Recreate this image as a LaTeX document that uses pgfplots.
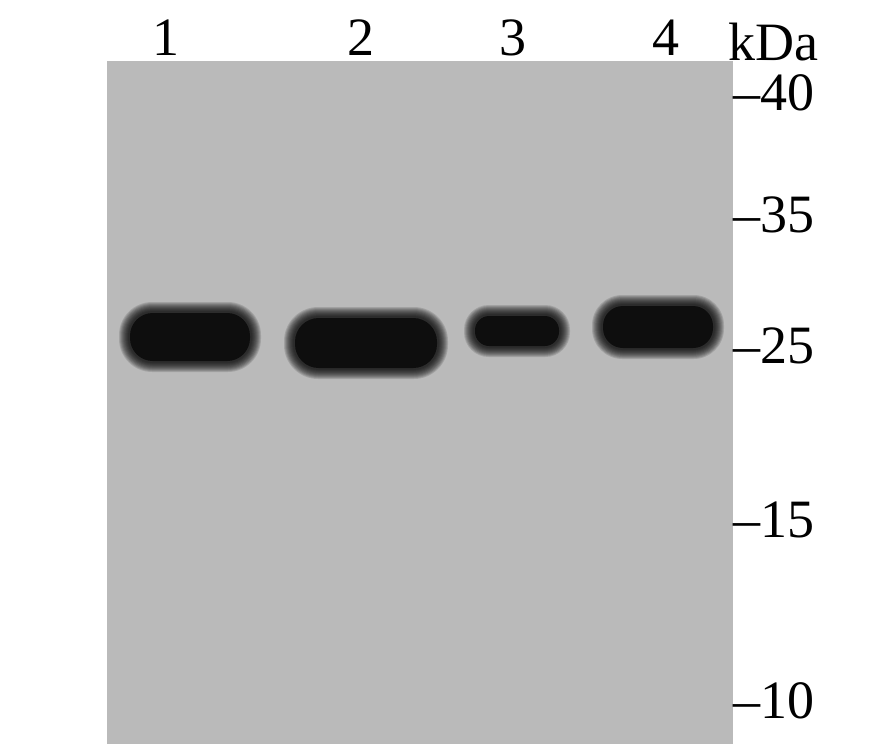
\documentclass[border=0pt]{standalone}
\usepackage{pgfplots}
\pgfplotsset{compat=1.18}
\usepackage{pgfplotstable}
\usepackage{fontspec}
\setmainfont{Liberation Serif}
\definecolor{blot}{RGB}{186,186,186}
\definecolor{bandcol}{RGB}{14,14,14}
\tikzset{lbl/.style={inner sep=0pt, outer sep=0pt, font=\fontsize{54}{60}\selectfont}}

% band centres (px), half width, half height of the dark core
\pgfplotstableread{
x y w h
190 337 62 26
366 343 73 27
517 331 44 17
658 327 57 23
}\bands

\pgfdeclareplotmark{band}{%
  \foreach \e in {9,8,7,6,5,4,3,2,1,0}{%
    \pgfmathsetmacro{\rr}{0.95*(\bh+\e)}%
    \fill[black, draw=none, fill opacity=0.13, rounded corners=\rr pt]
      (-\bw pt-\e pt,-\bh pt-\e pt) rectangle (\bw pt+\e pt,\bh pt+\e pt);
  }%
  \pgfmathsetmacro{\rr}{0.95*(\bh-2)}%
  \fill[bandcol, draw=none, rounded corners=\rr pt]
    (-\bw pt+2pt,-\bh pt+2pt) rectangle (\bw pt-2pt,\bh pt-2pt);
}

\begin{document}
\begin{tikzpicture}
\begin{axis}[
  width=878pt, height=753pt, scale only axis,
  xmin=0, xmax=878, ymin=0, ymax=753, y dir=reverse,
  hide axis, clip=false,
]
\addplot[fill=white, draw=none] coordinates {(0,0) (878,0) (878,753) (0,753)} -- cycle;
\addplot[fill=blot, draw=none] coordinates {(107,61) (733,61) (733,744) (107,744)} -- cycle;
\addplot[only marks, mark=band, mark options={draw=none},
  visualization depends on={\thisrow{w}\as\bw},
  visualization depends on={\thisrow{h}\as\bh}] table[x=x, y=y] {\bands};

\node[lbl, anchor=base] at (axis cs:166,55) {1};
\node[lbl, anchor=base] at (axis cs:361,55) {2};
\node[lbl, anchor=base] at (axis cs:513,55) {3};
\node[lbl, anchor=base] at (axis cs:666,55) {4};
\node[lbl, anchor=base] at (axis cs:773,60) {kDa};

\node[lbl, anchor=base west] at (axis cs:733,110) {\textendash40};
\node[lbl, anchor=base west] at (axis cs:733,232) {\textendash35};
\node[lbl, anchor=base west] at (axis cs:733,363) {\textendash25};
\node[lbl, anchor=base west] at (axis cs:733,537) {\textendash15};
\node[lbl, anchor=base west] at (axis cs:733,718) {\textendash10};
\end{axis}
\end{tikzpicture}
\end{document}
